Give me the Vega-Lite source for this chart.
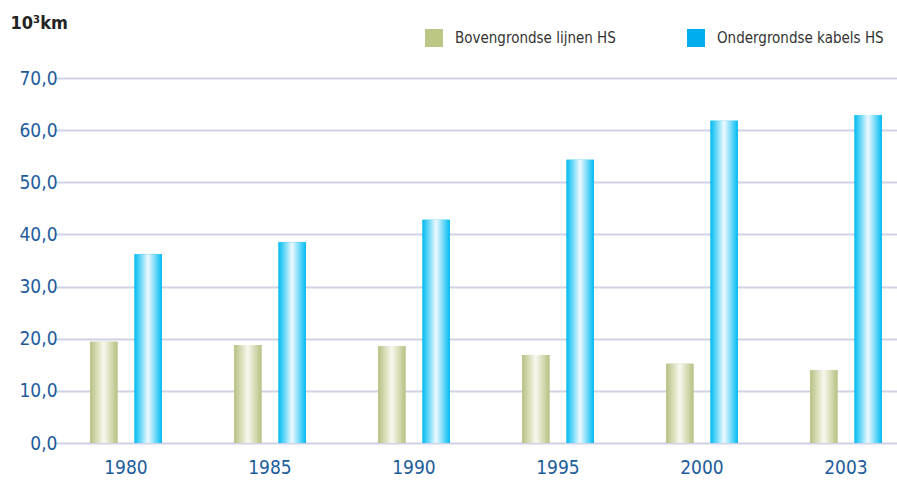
{
  "$schema": "https://vega.github.io/schema/vega-lite/v6.json",
  "autosize": "none",
  "width": 823,
  "height": 365,
  "padding": {"left": 74, "top": 78, "right": 0, "bottom": 40},
  "background": "white",
  "config": {
    "view": {"stroke": null},
    "font": "DejaVu Sans Condensed, Liberation Sans, sans-serif"
  },
  "data": {
    "values": [
      {"year": "1980", "series": "Bovengrondse lijnen HS", "value": 19.4},
      {"year": "1980", "series": "Ondergrondse kabels HS", "value": 36.2},
      {"year": "1985", "series": "Bovengrondse lijnen HS", "value": 18.8},
      {"year": "1985", "series": "Ondergrondse kabels HS", "value": 38.5},
      {"year": "1990", "series": "Bovengrondse lijnen HS", "value": 18.6},
      {"year": "1990", "series": "Ondergrondse kabels HS", "value": 42.8},
      {"year": "1995", "series": "Bovengrondse lijnen HS", "value": 16.9},
      {"year": "1995", "series": "Ondergrondse kabels HS", "value": 54.3},
      {"year": "2000", "series": "Bovengrondse lijnen HS", "value": 15.2},
      {"year": "2000", "series": "Ondergrondse kabels HS", "value": 61.8},
      {"year": "2003", "series": "Bovengrondse lijnen HS", "value": 14.0},
      {"year": "2003", "series": "Ondergrondse kabels HS", "value": 62.9}
    ]
  },
  "encoding": {
    "x": {
      "field": "year", "type": "nominal",
      "scale": {"range": [-20, 844], "paddingInner": 0.38, "paddingOuter": 0.19},
      "axis": {
        "title": null, "labelAngle": 0, "domain": false, "ticks": false,
        "labelPadding": 15, "labelFontSize": 19, "labelColor": "#1d5c9c",
        "labelFont": "DejaVu Sans Condensed, Liberation Sans, sans-serif"
      }
    },
    "xOffset": {
      "field": "series", "type": "nominal",
      "scale": {"domain": ["Bovengrondse lijnen HS", "Ondergrondse kabels HS"], "paddingInner": 0.386, "paddingOuter": 0.2}
    },
    "y": {
      "field": "value", "type": "quantitative",
      "scale": {"domain": [0, 70], "nice": false},
      "axis": {
        "title": "10³km", "titleAngle": 0, "titleAlign": "left", "titleBaseline": "alphabetic",
        "titleX": -64, "titleY": -50, "titleFontSize": 18, "titleFontWeight": "bold", "titleColor": "#222",
        "titleFont": "DejaVu Sans Condensed, Liberation Sans, sans-serif",
        "values": [0, 10, 20, 30, 40, 50, 60, 70],
        "labelExpr": "replace(format(datum.value, '.1f'), '.', ',')",
        "labelFontSize": 19, "labelColor": "#1d5c9c", "labelPadding": 17,
        "labelFont": "DejaVu Sans Condensed, Liberation Sans, sans-serif",
        "domain": false, "ticks": false,
        "grid": true, "gridColor": "#cfd2e6", "gridWidth": 2
      }
    }
  },
  "layer": [
    {
      "mark": {"type": "bar"},
      "encoding": {
        "color": {
          "field": "series", "type": "nominal",
          "scale": {"domain": ["Bovengrondse lijnen HS", "Ondergrondse kabels HS"], "range": ["#bcc785", "#00aeef"]},
          "legend": {
            "title": null, "orient": "none", "direction": "horizontal",
            "legendX": 351, "legendY": -49,
            "symbolType": "square", "symbolSize": 324, "symbolStrokeWidth": 0,
            "labelFontSize": 15, "labelColor": "#333333",
            "labelFont": "DejaVu Sans Condensed, Liberation Sans, sans-serif",
            "labelOffset": 12, "columnPadding": 71, "labelLimit": 300
          }
        }
      }
    },
    {
      "transform": [{"filter": "datum.series === 'Bovengrondse lijnen HS'"}],
      "mark": {
        "type": "bar",
        "color": {
          "gradient": "linear", "x1": 0, "x2": 1, "y1": 0, "y2": 0,
          "stops": [
            {"offset": 0, "color": "#b8c083"},
            {"offset": 0.5, "color": "#f8f8ee"},
            {"offset": 1, "color": "#b8c083"}
          ]
        }
      }
    },
    {
      "transform": [{"filter": "datum.series === 'Ondergrondse kabels HS'"}],
      "mark": {
        "type": "bar",
        "color": {
          "gradient": "linear", "x1": 0, "x2": 1, "y1": 0, "y2": 0,
          "stops": [
            {"offset": 0, "color": "#00bdf2"},
            {"offset": 0.5, "color": "#eef9ff"},
            {"offset": 1, "color": "#00bdf2"}
          ]
        }
      }
    }
  ]
}
